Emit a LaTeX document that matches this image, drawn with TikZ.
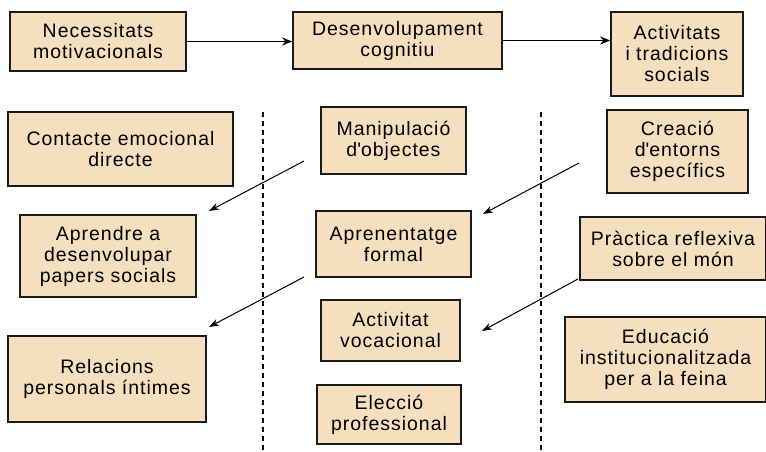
\documentclass[tikz,border=0pt]{standalone}
\usepackage{fontspec}
\setmainfont{Liberation Sans}[LetterSpace=5.0]
\usetikzlibrary{arrows.meta}

\definecolor{boxfill}{HTML}{F5DFBF}
\definecolor{boxline}{HTML}{1A1A1A}

\tikzset{
  card/.style={draw=boxline, line width=1.6pt, fill=boxfill, inner sep=0pt,
    align=center, text=black, font=\fontsize{19.5}{21}\selectfont},
  flow/.style={draw=black, line width=1.8pt, -{Stealth[length=10pt,width=8pt]}},
  hint/.style={draw=black, line width=1.0pt, -{Stealth[length=10pt,width=7pt]}},
  divider/.style={draw=black, line width=1.2pt, dash pattern=on 5pt off 4pt}
}

\begin{document}
\begin{tikzpicture}[x=1pt, y=-1pt]
  \useasboundingbox (0,0) rectangle (766,452);

  % column separators
  \draw[divider] (263,112) -- (263,452);
  \draw[divider] (541,112) -- (541,452);

  % top row
  \node[card, minimum width=176pt, minimum height=59pt] (nec) at (98,41.5) {Necessitats\\motivacionals};
  \node[card, minimum width=209pt, minimum height=57pt] (des) at (397.5,40.5) {Desenvolupament\\cognitiu};
  \node[card, minimum width=132pt, minimum height=84pt] (act) at (677,54) {Activitats\\i tradicions\\socials};

  % left column
  \node[card, minimum width=225pt, minimum height=74pt] (con) at (120.5,149) {Contacte emocional\\directe};
  \node[card, minimum width=176pt, minimum height=82pt] (apr) at (108,256) {Aprendre a\\desenvolupar\\papers socials};
  \node[card, minimum width=198pt, minimum height=86pt] (rel) at (107,379) {Relacions\\personals íntimes};

  % middle column
  \node[card, minimum width=145pt, minimum height=67pt] (man) at (393.5,140.5) {Manipulació\\d\textquotesingle objectes};
  \node[card, minimum width=155pt, minimum height=66pt] (apf) at (393.5,244) {Aprenentatge\\formal};
  \node[card, minimum width=139pt, minimum height=61pt] (avo) at (390.5,330.5) {Activitat\\vocacional};
  \node[card, minimum width=144pt, minimum height=59pt] (ele) at (389,414.5) {Elecció\\professional};

  % right column
  \node[card, minimum width=141pt, minimum height=83pt] (cre) at (677.5,151.5) {Creació\\d\textquotesingle entorns\\específics};
  \node[card, minimum width=186pt, minimum height=63pt] (pra) at (673,248.5) {Pràctica reflexiva\\sobre el món};
  \node[card, minimum width=201pt, minimum height=85pt] (edu) at (665.5,359.5) {Educació\\institucionalitzada\\per a la feina};

  % main sequence
  \draw[flow] (nec.east) -- (des.west |- nec.east);
  \draw[flow] (des.east) -- (act.west |- des.east);

  % diagonal hints between columns
  \coordinate (a1s) at (304,161);
  \coordinate (a1e) at (209,211);
  \coordinate (a2s) at (579,163);
  \coordinate (a2e) at (483,214);
  \coordinate (a3s) at (304,277);
  \coordinate (a3e) at (209,327);
  \coordinate (a4s) at (578,279);
  \coordinate (a4e) at (482,331);
  \draw[hint] (a1s) -- (a1e);
  \draw[hint] (a2s) -- (a2e);
  \draw[hint] (a3s) -- (a3e);
  \draw[hint] (a4s) -- (a4e);
\end{tikzpicture}
\end{document}
